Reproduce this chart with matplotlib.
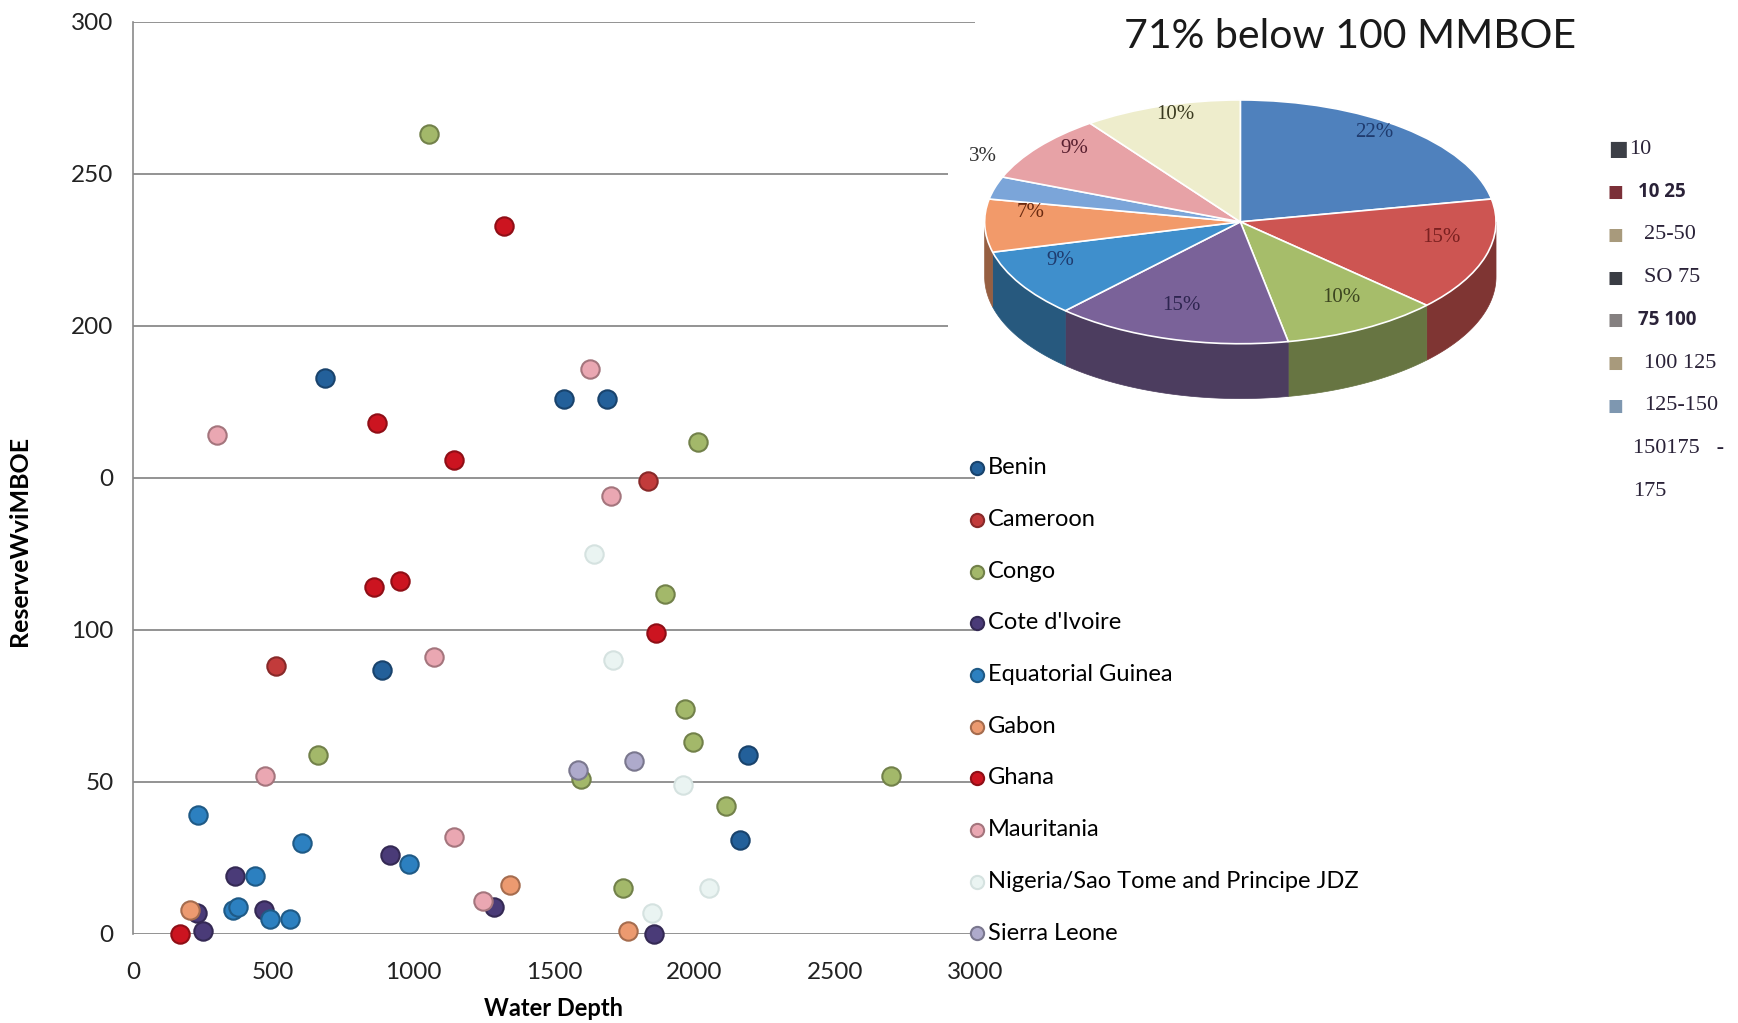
import matplotlib.pyplot as plt
from matplotlib.patches import Polygon
import matplotlib.colors as mcolors
import numpy as np

# ---- discoveries: water depth (m) vs reserves (MMBOE), per country ----
countries = ["Benin", "Cameroon", "Congo", "Cote d'Ivoire", "Equatorial Guinea",
             "Gabon", "Ghana", "Mauritania", "Nigeria/Sao Tome and Principe JDZ",
             "Sierra Leone"]
depth = [
    [683, 1536, 1690, 888, 2191, 2163],
    [1836, 509],
    [1054, 2013, 1895, 1966, 1994, 1595, 2700, 659, 2112, 1745],
    [916, 363, 466, 1287, 1855, 229, 249],
    [233, 604, 983, 434, 358, 374, 490, 561],
    [205, 1342, 1765],
    [1323, 868, 1145, 860, 951, 1863, 166],
    [300, 1630, 1702, 1074, 470, 1145, 1248],
    [1642, 1709, 1958, 2053, 1848],
    [1784, 1587],
]
reserves = [
    [183, 176, 176, 87, 59, 31],
    [149, 88],
    [263, 162, 112, 74, 63, 51, 52, 59, 42, 15],
    [26, 19, 8, 9, 0, 7, 1],
    [39, 30, 23, 19, 8, 9, 5, 5],
    [8, 16, 1],
    [233, 168, 156, 114, 116, 99, 0],
    [164, 186, 144, 91, 52, 32, 11],
    [125, 90, 49, 15, 7],
    [57, 54],
]
colors = ["#23609a", "#c23b3b", "#a3b86a", "#4a3b78", "#2c80c0",
          "#ec9a70", "#cc1420", "#eaa7b2", "#eaf4f2", "#aeaacb"]

y_ticks = [0, 50, 100, 150, 200, 250, 300]
y_ticklabels = ["0", "50", "100", "0", "200", "250", "300"]
x_ticks = [0, 500, 1000, 1500, 2000, 2500, 3000]

# ---- size distribution pie ----
pie_pcts = [22, 15, 10, 15, 9, 7, 3, 9, 10]
pie_labels = ["22%", "15%", "10%", "15%", "9%", "7%", "3%", "9%", "10%"]
pie_colors = ["#4f81bd", "#cd5552", "#a6bd6a", "#7a6299", "#3f8fcc",
              "#f29a6a", "#7ba5d9", "#e7a2a6", "#eeedcc"]
pie_text_colors = ["#1f3b6e", "#7a2020", "#3c4520", "#2e2550", "#1f3b6e",
                   "#6a2a10", "#333333", "#5a2030", "#3a3a20"]

size_bins = ["10", "10 25", "25-50", "SO 75", "75 100", "100 125", "125-150"]
bin_colors = ["#3c3f46", "#7b3038", "#a89a7c", "#3a3d44", "#858080",
              "#a89a7c", "#7e97b0"]
bin_bold = [False, True, False, False, True, False, False]

fig = plt.figure(figsize=(17.38, 10.23), dpi=100)
plt.rcParams['font.family'] = ['Lato', 'DejaVu Sans']

# scatter
ax = fig.add_axes([0.0765, 0.087, 0.4845, 0.8915])
for name, xs, ys, c in zip(countries, depth, reserves, colors):
    edge = [v * 0.7 for v in mcolors.to_rgb(c)]
    if name.startswith("Nigeria"):
        edge = "#d5e2e0"
    ax.scatter(xs, ys, s=175, color=c, edgecolors=[edge], linewidths=1.5,
               label=name, zorder=3, clip_on=False)

ax.set_xlim(0, 3000)
ax.set_ylim(0, 300)
ax.set_yticks(y_ticks)
ax.set_yticklabels(y_ticklabels)
ax.set_xticks(x_ticks)
ax.tick_params(length=0, labelsize=17.5, pad=20, colors="#222222")
ax.tick_params(axis="y", pad=14)
for y in y_ticks:
    ax.axhline(y, color="#8a8a8a", lw=1.3, zorder=1)
for side in ["top", "right", "bottom"]:
    ax.spines[side].set_visible(False)
ax.spines["left"].set_color("#8a8a8a")
ax.spines["left"].set_linewidth(1.2)
ax.set_xlabel("Water Depth", fontsize=17, fontweight="bold", labelpad=10)
fig.text(0.011, 0.471, "ReserveWviMBOE", rotation=90, fontsize=18,
         fontweight="bold", va="center", ha="center")

ax.legend(loc="upper left", bbox_to_anchor=(0.551, 0.5645),
          bbox_transform=fig.transFigure, frameon=False, fontsize=17,
          handlelength=0.6, handletextpad=0.2, labelspacing=1.3,
          borderpad=0, markerscale=0.72)

# pseudo-3D pie
pax = fig.add_axes([0.5455, 0.608, 0.3216, 0.305])
wedges, _ = pax.pie(pie_pcts, colors=pie_colors, startangle=90,
                    counterclock=False,
                    wedgeprops=dict(edgecolor="white", linewidth=1.2))
pax.set_aspect("auto")
pax.set_xlim(-1.143, 1.043)
pax.set_ylim(-1.47, 1.09)
pax.set_frame_on(True)
pax.set_facecolor("white")
for sp in pax.spines.values():
    sp.set_visible(False)

depth3d = 0.45
for w, c in zip(wedges, pie_colors):
    t1, t2 = w.theta1 % 360, w.theta2 % 360
    if t2 <= t1:
        t2 += 360
    for lo, hi in [(180, 360), (540, 720)]:
        a, b = max(t1, lo), min(t2, hi)
        if b <= a:
            continue
        th = np.radians(np.linspace(a, b, 60))
        top = np.column_stack([np.cos(th), np.sin(th)])
        bot = top - [0, depth3d]
        shade = [v * 0.62 for v in mcolors.to_rgb(c)]
        pax.add_patch(Polygon(np.vstack([top, bot[::-1]]), closed=True,
                              facecolor=shade, edgecolor=shade, lw=0.5,
                              zorder=0))

for w, lab, tc in zip(wedges, pie_labels, pie_text_colors):
    mid = np.radians((w.theta1 + w.theta2) / 2)
    if lab == "3%":
        px, py = 1.05 * np.cos(mid), 1.05 * np.sin(mid) + 0.24
    else:
        px, py = 0.82 * np.cos(mid), 0.82 * np.sin(mid) + 0.1
    pax.text(px, py, lab, ha="center", va="center",
             fontsize=15, color=tc, family="Liberation Serif")

fig.text(0.777, 0.964, "71% below 100 MMBOE", fontsize=29.5, ha="center",
         va="center", color="#1a1a1a")

# size-bin legend
y0 = 0.854
for i, (lab, c, bold) in enumerate(zip(size_bins, bin_colors, bin_bold)):
    y = y0 - i * 0.0418
    fig.text(0.925, y, "\u25a0", color=c, fontsize=12 if i else 15,
             va="center", family="DejaVu Sans")
    fx = 0.9375 if i == 0 else (0.9426 if bold else 0.946)
    if bold:
        fig.text(fx, y, lab, fontsize=13.5, fontweight="bold", va="center",
                 color="#2a2238", family="Open Sans")
    else:
        fig.text(fx, y, lab, fontsize=16, va="center", color="#2a2238",
                 family="Liberation Serif")
fig.text(0.9394, y0 - 7 * 0.0418, "150175   -", fontsize=16, va="center",
         color="#2a2238", family="Liberation Serif")
fig.text(0.9394, y0 - 8 * 0.0418, "175", fontsize=16, va="center",
         color="#2a2238", family="Liberation Serif")

fig.savefig("out.png", dpi=100)
